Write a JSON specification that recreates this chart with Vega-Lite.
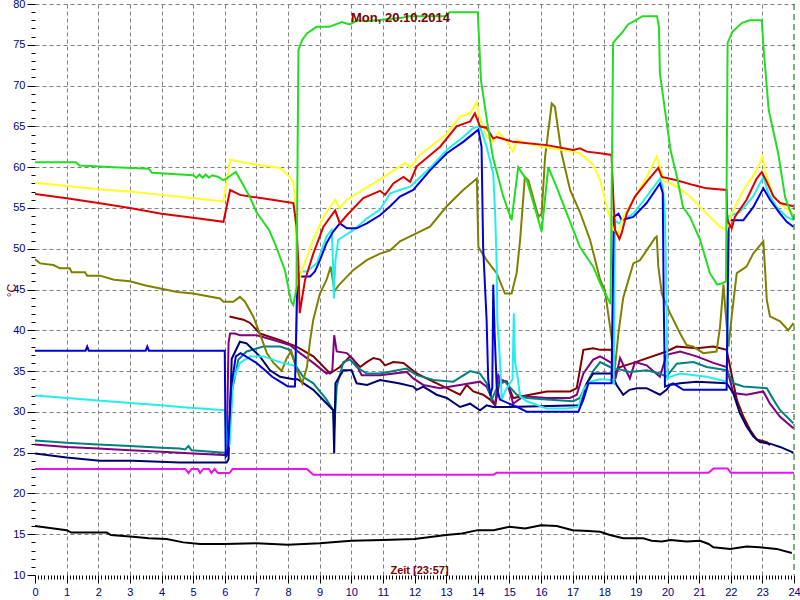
{
"$schema": "https://vega.github.io/schema/vega-lite/v6.json",
"width": 759, "height": 571,
"autosize": {"type": "none"},
"padding": {"left": 35, "top": 4, "right": 6, "bottom": 25},
"background": "white",
"config": {"view": {"stroke": null}, "font": "Liberation Sans"},
"title": {"text": "Mon, 20.10.2014", "color": "#800000", "fontSize": 13, "fontWeight": "bold", "font": "Liberation Sans", "anchor": "middle", "frame": "group", "offset": -27, "dx": -14},
"layer": [
{
"data": {"values": [
{"s":"k","t":0,"v":16.0},{"s":"k","t":1.0,"v":15.5},{"s":"k","t":1.15,"v":15.2},{"s":"k","t":2.27,"v":15.2},{"s":"k","t":2.4,"v":14.9},{"s":"k","t":3.1,"v":14.7},{"s":"k","t":3.6,"v":14.5},{"s":"k","t":4.16,"v":14.4},{"s":"k","t":4.69,"v":14.0},{"s":"k","t":5.22,"v":13.8},{"s":"k","t":6.0,"v":13.8},{"s":"k","t":7.0,"v":13.9},{"s":"k","t":8.0,"v":13.7},{"s":"k","t":9.0,"v":13.9},{"s":"k","t":10.0,"v":14.2},{"s":"k","t":11.0,"v":14.3},{"s":"k","t":12.0,"v":14.4},{"s":"k","t":13.0,"v":14.9},{"s":"k","t":13.5,"v":15.1},{"s":"k","t":14.0,"v":15.5},{"s":"k","t":14.5,"v":15.5},{"s":"k","t":15.0,"v":15.9},{"s":"k","t":15.5,"v":15.7},{"s":"k","t":16.0,"v":16.1},{"s":"k","t":16.5,"v":16.0},{"s":"k","t":17.0,"v":15.5},{"s":"k","t":17.5,"v":15.4},{"s":"k","t":17.87,"v":15.3},{"s":"k","t":18.18,"v":14.9},{"s":"k","t":18.6,"v":14.5},{"s":"k","t":19.23,"v":14.5},{"s":"k","t":19.5,"v":14.2},{"s":"k","t":19.82,"v":14.1},{"s":"k","t":20.1,"v":14.3},{"s":"k","t":20.6,"v":14.1},{"s":"k","t":21.03,"v":14.2},{"s":"k","t":21.3,"v":13.8},{"s":"k","t":21.45,"v":13.4},{"s":"k","t":21.98,"v":13.2},{"s":"k","t":22.5,"v":13.5},{"s":"k","t":22.92,"v":13.4},{"s":"k","t":23.45,"v":13.2},{"s":"k","t":23.93,"v":12.7},
{"s":"mg","t":0,"v":23.0},{"s":"mg","t":4.75,"v":23.0},{"s":"mg","t":4.85,"v":22.5},{"s":"mg","t":4.95,"v":23.0},{"s":"mg","t":5.15,"v":23.0},{"s":"mg","t":5.22,"v":22.5},{"s":"mg","t":5.32,"v":23.0},{"s":"mg","t":5.5,"v":23.0},{"s":"mg","t":5.58,"v":22.5},{"s":"mg","t":5.68,"v":23.0},{"s":"mg","t":5.78,"v":22.5},{"s":"mg","t":6.15,"v":22.5},{"s":"mg","t":6.25,"v":23.0},{"s":"mg","t":8.6,"v":23.0},{"s":"mg","t":8.8,"v":22.3},{"s":"mg","t":14.5,"v":22.3},{"s":"mg","t":14.6,"v":22.55},{"s":"mg","t":21.3,"v":22.55},{"s":"mg","t":21.45,"v":23.07},{"s":"mg","t":21.9,"v":23.07},{"s":"mg","t":22.0,"v":22.55},{"s":"mg","t":24,"v":22.55},
{"s":"m","t":6.15,"v":41.7},{"s":"m","t":6.59,"v":41.3},{"s":"m","t":6.8,"v":40.9},{"s":"m","t":7.11,"v":39.6},{"s":"m","t":7.75,"v":38.8},{"s":"m","t":8.27,"v":38.0},{"s":"m","t":8.8,"v":36.8},{"s":"m","t":9.33,"v":34.7},{"s":"m","t":9.64,"v":35.5},{"s":"m","t":9.96,"v":36.8},{"s":"m","t":10.28,"v":35.5},{"s":"m","t":10.49,"v":36.1},{"s":"m","t":10.7,"v":36.6},{"s":"m","t":10.91,"v":36.4},{"s":"m","t":11.07,"v":35.7},{"s":"m","t":11.33,"v":36.1},{"s":"m","t":11.65,"v":36.0},{"s":"m","t":12.07,"v":34.7},{"s":"m","t":12.49,"v":33.9},{"s":"m","t":13.02,"v":32.9},{"s":"m","t":13.44,"v":32.1},{"s":"m","t":13.65,"v":33.3},{"s":"m","t":13.86,"v":32.5},{"s":"m","t":14.17,"v":32.1},{"s":"m","t":14.39,"v":31.5},{"s":"m","t":14.55,"v":30.8},{"s":"m","t":14.7,"v":33.9},{"s":"m","t":14.92,"v":33.7},{"s":"m","t":15.12,"v":31.7},{"s":"m","t":15.65,"v":32.1},{"s":"m","t":16.18,"v":32.5},{"s":"m","t":16.92,"v":32.5},{"s":"m","t":17.13,"v":32.9},{"s":"m","t":17.34,"v":37.6},{"s":"m","t":17.65,"v":37.8},{"s":"m","t":17.87,"v":37.6},{"s":"m","t":18.23,"v":37.6},{"s":"m","t":18.34,"v":34.7},{"s":"m","t":18.5,"v":35.5},{"s":"m","t":18.92,"v":36.0},{"s":"m","t":19.97,"v":37.4},{"s":"m","t":20.29,"v":38.0},{"s":"m","t":20.92,"v":37.8},{"s":"m","t":21.45,"v":38.0},{"s":"m","t":21.87,"v":37.6},{"s":"m","t":21.98,"v":35.5},{"s":"m","t":22.19,"v":31.5},{"s":"m","t":22.4,"v":29.4},{"s":"m","t":22.61,"v":27.8},{"s":"m","t":22.82,"v":26.6},{"s":"m","t":23.14,"v":26.3},{"s":"m","t":23.24,"v":25.9},
{"s":"p","t":0,"v":26.0},{"s":"p","t":1,"v":25.7},{"s":"p","t":2,"v":25.5},{"s":"p","t":3,"v":25.3},{"s":"p","t":4,"v":25.1},{"s":"p","t":5,"v":24.9},{"s":"p","t":6.06,"v":24.7},{"s":"p","t":6.12,"v":38.5},{"s":"p","t":6.17,"v":39.6},{"s":"p","t":6.32,"v":39.6},{"s":"p","t":6.48,"v":39.4},{"s":"p","t":7.01,"v":39.4},{"s":"p","t":7.54,"v":38.8},{"s":"p","t":8.06,"v":38.2},{"s":"p","t":8.38,"v":37.2},{"s":"p","t":8.8,"v":36.0},{"s":"p","t":9.22,"v":34.7},{"s":"p","t":9.4,"v":35.0},{"s":"p","t":9.46,"v":39.4},{"s":"p","t":9.54,"v":37.4},{"s":"p","t":9.86,"v":37.2},{"s":"p","t":10.07,"v":36.4},{"s":"p","t":10.33,"v":34.5},{"s":"p","t":10.91,"v":34.5},{"s":"p","t":11.75,"v":34.9},{"s":"p","t":11.96,"v":34.1},{"s":"p","t":12.28,"v":33.3},{"s":"p","t":12.81,"v":32.9},{"s":"p","t":13.44,"v":33.3},{"s":"p","t":14.07,"v":33.7},{"s":"p","t":14.28,"v":33.1},{"s":"p","t":14.55,"v":30.8},{"s":"p","t":14.65,"v":34.5},{"s":"p","t":14.75,"v":33.9},{"s":"p","t":14.92,"v":33.7},{"s":"p","t":15.12,"v":31.0},{"s":"p","t":15.44,"v":31.9},{"s":"p","t":16.18,"v":31.7},{"s":"p","t":16.92,"v":31.7},{"s":"p","t":17.13,"v":32.1},{"s":"p","t":17.34,"v":34.7},{"s":"p","t":17.65,"v":36.4},{"s":"p","t":17.87,"v":36.8},{"s":"p","t":18.23,"v":36.0},{"s":"p","t":18.35,"v":34.0},{"s":"p","t":18.5,"v":36.6},{"s":"p","t":18.81,"v":34.1},{"s":"p","t":18.97,"v":36.1},{"s":"p","t":19.34,"v":35.7},{"s":"p","t":19.76,"v":34.3},{"s":"p","t":19.97,"v":37.0},{"s":"p","t":20.4,"v":37.4},{"s":"p","t":20.92,"v":36.8},{"s":"p","t":21.45,"v":36.0},{"s":"p","t":21.87,"v":35.5},{"s":"p","t":22.08,"v":32.3},{"s":"p","t":22.5,"v":32.1},{"s":"p","t":23.03,"v":32.5},{"s":"p","t":23.24,"v":31.0},{"s":"p","t":23.56,"v":29.4},{"s":"p","t":23.98,"v":28.0},
{"s":"e","t":0,"v":26.5},{"s":"e","t":1,"v":26.2},{"s":"e","t":2,"v":26.0},{"s":"e","t":3,"v":25.8},{"s":"e","t":4,"v":25.6},{"s":"e","t":4.58,"v":25.5},{"s":"e","t":4.75,"v":25.4},{"s":"e","t":4.85,"v":25.8},{"s":"e","t":4.95,"v":25.3},{"s":"e","t":6.0,"v":25.0},{"s":"e","t":6.1,"v":25.0},{"s":"e","t":6.2,"v":32.0},{"s":"e","t":6.43,"v":36.4},{"s":"e","t":6.69,"v":37.4},{"s":"e","t":7.22,"v":38.0},{"s":"e","t":7.75,"v":38.0},{"s":"e","t":8.06,"v":37.6},{"s":"e","t":8.27,"v":35.5},{"s":"e","t":8.48,"v":34.3},{"s":"e","t":8.8,"v":33.5},{"s":"e","t":9.22,"v":31.5},{"s":"e","t":9.43,"v":30.2},{"s":"e","t":9.46,"v":27.8},{"s":"e","t":9.54,"v":33.1},{"s":"e","t":9.75,"v":36.1},{"s":"e","t":9.96,"v":36.4},{"s":"e","t":10.17,"v":35.5},{"s":"e","t":10.49,"v":34.7},{"s":"e","t":10.91,"v":34.7},{"s":"e","t":11.75,"v":35.3},{"s":"e","t":12.07,"v":34.5},{"s":"e","t":12.6,"v":33.9},{"s":"e","t":13.23,"v":33.7},{"s":"e","t":13.76,"v":35.0},{"s":"e","t":14.07,"v":34.7},{"s":"e","t":14.28,"v":33.5},{"s":"e","t":14.44,"v":31.5},{"s":"e","t":14.65,"v":33.3},{"s":"e","t":14.86,"v":33.7},{"s":"e","t":15.0,"v":33.1},{"s":"e","t":15.23,"v":32.1},{"s":"e","t":15.55,"v":31.7},{"s":"e","t":16.18,"v":31.5},{"s":"e","t":17.02,"v":31.3},{"s":"e","t":17.23,"v":31.7},{"s":"e","t":17.45,"v":33.5},{"s":"e","t":17.65,"v":35.0},{"s":"e","t":17.87,"v":36.1},{"s":"e","t":18.18,"v":35.5},{"s":"e","t":18.39,"v":35.3},{"s":"e","t":18.81,"v":34.9},{"s":"e","t":19.34,"v":35.1},{"s":"e","t":19.76,"v":34.7},{"s":"e","t":19.97,"v":34.3},{"s":"e","t":20.29,"v":35.9},{"s":"e","t":20.82,"v":36.1},{"s":"e","t":21.24,"v":35.5},{"s":"e","t":21.87,"v":35.1},{"s":"e","t":22.08,"v":33.5},{"s":"e","t":22.4,"v":33.1},{"s":"e","t":23.14,"v":32.9},{"s":"e","t":23.35,"v":31.5},{"s":"e","t":23.56,"v":30.2},{"s":"e","t":23.98,"v":28.6},
{"s":"n","t":0,"v":24.9},{"s":"n","t":1,"v":24.4},{"s":"n","t":2.05,"v":24.0},{"s":"n","t":3.1,"v":24.0},{"s":"n","t":4.58,"v":23.8},{"s":"n","t":6.06,"v":23.8},{"s":"n","t":6.12,"v":24.2},{"s":"n","t":6.22,"v":36.5},{"s":"n","t":6.48,"v":38.6},{"s":"n","t":6.69,"v":38.4},{"s":"n","t":7.11,"v":36.8},{"s":"n","t":7.43,"v":35.1},{"s":"n","t":7.75,"v":34.3},{"s":"n","t":8.17,"v":34.0},{"s":"n","t":8.3,"v":34.0},{"s":"n","t":8.8,"v":32.7},{"s":"n","t":9.43,"v":30.2},{"s":"n","t":9.46,"v":24.9},{"s":"n","t":9.5,"v":33.5},{"s":"n","t":9.75,"v":35.1},{"s":"n","t":10.01,"v":35.1},{"s":"n","t":10.17,"v":33.5},{"s":"n","t":10.5,"v":33.3},{"s":"n","t":10.91,"v":33.9},{"s":"n","t":11.5,"v":33.5},{"s":"n","t":11.96,"v":33.1},{"s":"n","t":12.07,"v":32.7},{"s":"n","t":12.28,"v":33.1},{"s":"n","t":12.7,"v":32.1},{"s":"n","t":13.02,"v":31.7},{"s":"n","t":13.44,"v":30.6},{"s":"n","t":13.76,"v":31.0},{"s":"n","t":14.07,"v":30.2},{"s":"n","t":14.28,"v":30.8},{"s":"n","t":14.49,"v":30.6},{"s":"n","t":14.92,"v":30.6},{"s":"n","t":17.23,"v":30.8},{"s":"n","t":17.45,"v":33.5},{"s":"n","t":17.65,"v":34.7},{"s":"n","t":18.23,"v":34.7},{"s":"n","t":18.39,"v":33.3},{"s":"n","t":18.6,"v":32.1},{"s":"n","t":18.8,"v":32.7},{"s":"n","t":19.03,"v":32.9},{"s":"n","t":19.34,"v":32.9},{"s":"n","t":19.76,"v":32.1},{"s":"n","t":19.97,"v":32.7},{"s":"n","t":20.08,"v":33.3},{"s":"n","t":20.4,"v":33.5},{"s":"n","t":20.92,"v":33.7},{"s":"n","t":21.87,"v":33.5},{"s":"n","t":22.08,"v":32.3},{"s":"n","t":22.29,"v":29.8},{"s":"n","t":22.5,"v":28.2},{"s":"n","t":22.71,"v":27.0},{"s":"n","t":22.92,"v":26.3},{"s":"n","t":23.24,"v":26.1},{"s":"n","t":23.56,"v":25.7},{"s":"n","t":23.98,"v":25.0},
{"s":"o","t":0,"v":48.7},{"s":"o","t":0.16,"v":48.2},{"s":"o","t":0.58,"v":48.0},{"s":"o","t":0.79,"v":47.6},{"s":"o","t":1.1,"v":47.6},{"s":"o","t":1.16,"v":47.1},{"s":"o","t":1.58,"v":47.1},{"s":"o","t":1.65,"v":46.7},{"s":"o","t":2.05,"v":46.7},{"s":"o","t":2.5,"v":46.2},{"s":"o","t":3.0,"v":46.0},{"s":"o","t":3.5,"v":45.5},{"s":"o","t":4.0,"v":45.1},{"s":"o","t":4.5,"v":44.7},{"s":"o","t":5.0,"v":44.5},{"s":"o","t":5.85,"v":43.9},{"s":"o","t":5.96,"v":43.5},{"s":"o","t":6.27,"v":43.5},{"s":"o","t":6.48,"v":44.1},{"s":"o","t":6.64,"v":43.5},{"s":"o","t":6.9,"v":41.7},{"s":"o","t":7.11,"v":39.6},{"s":"o","t":7.33,"v":37.2},{"s":"o","t":7.54,"v":36.0},{"s":"o","t":7.8,"v":35.0},{"s":"o","t":7.95,"v":36.5},{"s":"o","t":8.1,"v":37.5},{"s":"o","t":8.3,"v":35.0},{"s":"o","t":8.45,"v":33.5},{"s":"o","t":8.6,"v":35.5},{"s":"o","t":8.7,"v":38.8},{"s":"o","t":8.8,"v":41.3},{"s":"o","t":9.01,"v":44.5},{"s":"o","t":9.22,"v":46.2},{"s":"o","t":9.35,"v":47.8},{"s":"o","t":9.47,"v":44.8},{"s":"o","t":9.6,"v":45.5},{"s":"o","t":10.07,"v":47.4},{"s":"o","t":10.49,"v":48.6},{"s":"o","t":10.91,"v":49.4},{"s":"o","t":11.23,"v":49.8},{"s":"o","t":11.54,"v":50.9},{"s":"o","t":11.96,"v":51.7},{"s":"o","t":12.49,"v":52.7},{"s":"o","t":13.02,"v":55.2},{"s":"o","t":13.54,"v":57.2},{"s":"o","t":13.97,"v":58.6},{"s":"o","t":14.02,"v":50.2},{"s":"o","t":14.28,"v":48.6},{"s":"o","t":14.6,"v":47.0},{"s":"o","t":14.86,"v":44.5},{"s":"o","t":15.07,"v":44.5},{"s":"o","t":15.23,"v":47.0},{"s":"o","t":15.34,"v":51.1},{"s":"o","t":15.49,"v":58.8},{"s":"o","t":15.6,"v":58.4},{"s":"o","t":15.92,"v":53.9},{"s":"o","t":16.02,"v":54.3},{"s":"o","t":16.13,"v":61.3},{"s":"o","t":16.34,"v":67.8},{"s":"o","t":16.44,"v":67.4},{"s":"o","t":16.65,"v":61.7},{"s":"o","t":16.92,"v":57.2},{"s":"o","t":17.23,"v":54.5},{"s":"o","t":17.55,"v":51.1},{"s":"o","t":17.87,"v":46.2},{"s":"o","t":18.02,"v":44.9},{"s":"o","t":18.2,"v":40.0},{"s":"o","t":18.34,"v":35.5},{"s":"o","t":18.45,"v":39.7},{"s":"o","t":18.6,"v":44.0},{"s":"o","t":18.92,"v":48.2},{"s":"o","t":19.13,"v":48.6},{"s":"o","t":19.34,"v":49.8},{"s":"o","t":19.6,"v":51.3},{"s":"o","t":19.66,"v":51.5},{"s":"o","t":19.71,"v":47.8},{"s":"o","t":19.82,"v":44.5},{"s":"o","t":19.9,"v":43.7},{"s":"o","t":20.08,"v":42.1},{"s":"o","t":20.4,"v":39.6},{"s":"o","t":20.6,"v":38.2},{"s":"o","t":20.82,"v":38.0},{"s":"o","t":21.13,"v":37.2},{"s":"o","t":21.55,"v":37.4},{"s":"o","t":21.66,"v":40.4},{"s":"o","t":21.77,"v":45.6},{"s":"o","t":21.82,"v":43.0},{"s":"o","t":21.93,"v":38.0},{"s":"o","t":22.03,"v":41.7},{"s":"o","t":22.19,"v":47.0},{"s":"o","t":22.5,"v":47.8},{"s":"o","t":22.71,"v":49.4},{"s":"o","t":23.03,"v":50.9},{"s":"o","t":23.08,"v":47.8},{"s":"o","t":23.14,"v":43.7},{"s":"o","t":23.24,"v":41.7},{"s":"o","t":23.56,"v":41.1},{"s":"o","t":23.82,"v":40.0},{"s":"o","t":23.98,"v":40.9},
{"s":"c","t":0,"v":32.0},{"s":"c","t":1,"v":31.7},{"s":"c","t":2,"v":31.4},{"s":"c","t":3,"v":31.1},{"s":"c","t":4,"v":30.8},{"s":"c","t":4.58,"v":30.6},{"s":"c","t":6.0,"v":30.2},{"s":"c","t":6.08,"v":25.3},{"s":"c","t":6.15,"v":26.0},{"s":"c","t":6.27,"v":33.9},{"s":"c","t":6.48,"v":36.0},{"s":"c","t":6.8,"v":36.8},{"s":"c","t":7.22,"v":36.8},{"s":"c","t":7.75,"v":36.1},{"s":"c","t":8.17,"v":35.7},{"s":"c","t":8.25,"v":35.5},{"s":"c","t":8.28,"v":46.6},{"s":"c","t":8.43,"v":47.2},{"s":"c","t":8.59,"v":47.2},{"s":"c","t":8.91,"v":48.2},{"s":"c","t":9.22,"v":51.5},{"s":"c","t":9.38,"v":52.3},{"s":"c","t":9.42,"v":48.6},{"s":"c","t":9.45,"v":43.9},{"s":"c","t":9.5,"v":48.6},{"s":"c","t":9.59,"v":51.1},{"s":"c","t":9.75,"v":51.5},{"s":"c","t":10.07,"v":52.3},{"s":"c","t":10.49,"v":53.7},{"s":"c","t":10.91,"v":54.8},{"s":"c","t":11.23,"v":56.8},{"s":"c","t":11.54,"v":57.2},{"s":"c","t":11.86,"v":57.6},{"s":"c","t":12.49,"v":59.9},{"s":"c","t":13.02,"v":62.1},{"s":"c","t":13.54,"v":63.7},{"s":"c","t":13.86,"v":64.8},{"s":"c","t":14.07,"v":65.0},{"s":"c","t":14.28,"v":62.5},{"s":"c","t":14.49,"v":59.2},{"s":"c","t":14.55,"v":54.3},{"s":"c","t":14.6,"v":47.8},{"s":"c","t":14.62,"v":41.3},{"s":"c","t":14.7,"v":36.4},{"s":"c","t":14.76,"v":31.5},{"s":"c","t":14.86,"v":32.5},{"s":"c","t":15.02,"v":33.5},{"s":"c","t":15.1,"v":34.0},{"s":"c","t":15.14,"v":42.1},{"s":"c","t":15.18,"v":36.0},{"s":"c","t":15.23,"v":35.1},{"s":"c","t":15.34,"v":31.9},{"s":"c","t":15.55,"v":31.3},{"s":"c","t":16.18,"v":30.4},{"s":"c","t":16.81,"v":30.4},{"s":"c","t":17.18,"v":30.6},{"s":"c","t":17.34,"v":32.7},{"s":"c","t":17.55,"v":33.7},{"s":"c","t":17.87,"v":34.0},{"s":"c","t":18.23,"v":33.9},{"s":"c","t":18.3,"v":33.5},{"s":"c","t":18.34,"v":53.5},{"s":"c","t":18.45,"v":53.1},{"s":"c","t":18.6,"v":53.5},{"s":"c","t":18.92,"v":54.3},{"s":"c","t":19.34,"v":56.4},{"s":"c","t":19.76,"v":58.6},{"s":"c","t":19.85,"v":57.6},{"s":"c","t":19.92,"v":54.3},{"s":"c","t":19.97,"v":43.7},{"s":"c","t":20.0,"v":34.0},{"s":"c","t":20.08,"v":34.3},{"s":"c","t":20.4,"v":34.7},{"s":"c","t":21.24,"v":34.3},{"s":"c","t":21.66,"v":33.9},{"s":"c","t":21.87,"v":33.7},{"s":"c","t":21.95,"v":54.0},{"s":"c","t":22.29,"v":54.5},{"s":"c","t":22.71,"v":56.4},{"s":"c","t":23.03,"v":58.8},{"s":"c","t":23.19,"v":56.8},{"s":"c","t":23.45,"v":55.1},{"s":"c","t":23.77,"v":53.9},{"s":"c","t":23.98,"v":53.5},
{"s":"b","t":0,"v":37.5},{"s":"b","t":1.6,"v":37.5},{"s":"b","t":1.65,"v":38.0},{"s":"b","t":1.7,"v":37.5},{"s":"b","t":3.5,"v":37.5},{"s":"b","t":3.55,"v":38.0},{"s":"b","t":3.6,"v":37.5},{"s":"b","t":6.0,"v":37.5},{"s":"b","t":6.03,"v":24.5},{"s":"b","t":6.1,"v":25.0},{"s":"b","t":6.2,"v":33.0},{"s":"b","t":6.35,"v":36.8},{"s":"b","t":6.5,"v":37.2},{"s":"b","t":7.0,"v":36.0},{"s":"b","t":7.3,"v":35.0},{"s":"b","t":7.5,"v":34.3},{"s":"b","t":7.75,"v":33.7},{"s":"b","t":8.0,"v":33.1},{"s":"b","t":8.22,"v":33.1},{"s":"b","t":8.3,"v":46.6},{"s":"b","t":8.7,"v":46.6},{"s":"b","t":8.85,"v":47.2},{"s":"b","t":9.01,"v":48.6},{"s":"b","t":9.22,"v":50.7},{"s":"b","t":9.43,"v":52.1},{"s":"b","t":9.64,"v":53.1},{"s":"b","t":9.86,"v":52.5},{"s":"b","t":10.17,"v":52.5},{"s":"b","t":10.49,"v":53.1},{"s":"b","t":10.91,"v":54.1},{"s":"b","t":11.23,"v":55.2},{"s":"b","t":11.54,"v":56.4},{"s":"b","t":11.96,"v":57.2},{"s":"b","t":12.49,"v":59.6},{"s":"b","t":13.02,"v":61.7},{"s":"b","t":13.54,"v":63.1},{"s":"b","t":14.02,"v":64.6},{"s":"b","t":14.12,"v":62.5},{"s":"b","t":14.17,"v":50.2},{"s":"b","t":14.28,"v":41.3},{"s":"b","t":14.33,"v":34.0},{"s":"b","t":14.4,"v":32.0},{"s":"b","t":14.46,"v":33.0},{"s":"b","t":14.49,"v":45.6},{"s":"b","t":14.53,"v":40.0},{"s":"b","t":14.6,"v":33.0},{"s":"b","t":14.7,"v":31.5},{"s":"b","t":15.3,"v":30.5},{"s":"b","t":15.55,"v":30.0},{"s":"b","t":17.18,"v":30.0},{"s":"b","t":17.34,"v":31.5},{"s":"b","t":17.5,"v":33.5},{"s":"b","t":18.23,"v":33.5},{"s":"b","t":18.3,"v":53.9},{"s":"b","t":18.45,"v":54.3},{"s":"b","t":18.55,"v":53.5},{"s":"b","t":18.92,"v":53.9},{"s":"b","t":19.34,"v":55.6},{"s":"b","t":19.76,"v":58.0},{"s":"b","t":19.85,"v":56.8},{"s":"b","t":19.88,"v":43.7},{"s":"b","t":19.92,"v":33.1},{"s":"b","t":20.18,"v":33.5},{"s":"b","t":20.5,"v":32.7},{"s":"b","t":21.87,"v":32.7},{"s":"b","t":21.93,"v":53.5},{"s":"b","t":22.4,"v":53.5},{"s":"b","t":22.71,"v":55.1},{"s":"b","t":23.03,"v":57.4},{"s":"b","t":23.24,"v":56.0},{"s":"b","t":23.56,"v":54.3},{"s":"b","t":23.77,"v":53.3},{"s":"b","t":23.98,"v":52.7},
{"s":"y","t":0,"v":58.1},{"s":"y","t":1,"v":57.7},{"s":"y","t":2,"v":57.3},{"s":"y","t":3,"v":57.0},{"s":"y","t":4,"v":56.6},{"s":"y","t":5,"v":56.2},{"s":"y","t":5.96,"v":55.8},{"s":"y","t":6.17,"v":60.9},{"s":"y","t":6.69,"v":60.5},{"s":"y","t":7.2,"v":60.2},{"s":"y","t":7.75,"v":59.9},{"s":"y","t":8.0,"v":59.0},{"s":"y","t":8.17,"v":58.2},{"s":"y","t":8.22,"v":56.0},{"s":"y","t":8.27,"v":47.0},{"s":"y","t":8.3,"v":45.5},{"s":"y","t":8.48,"v":47.8},{"s":"y","t":8.8,"v":51.1},{"s":"y","t":9.12,"v":53.9},{"s":"y","t":9.49,"v":56.0},{"s":"y","t":9.62,"v":55.0},{"s":"y","t":9.86,"v":56.0},{"s":"y","t":10.28,"v":57.0},{"s":"y","t":10.91,"v":58.5},{"s":"y","t":11.54,"v":60.1},{"s":"y","t":11.7,"v":60.5},{"s":"y","t":11.86,"v":59.9},{"s":"y","t":12.17,"v":61.5},{"s":"y","t":13.02,"v":64.1},{"s":"y","t":13.44,"v":66.2},{"s":"y","t":13.76,"v":66.6},{"s":"y","t":13.97,"v":68.0},{"s":"y","t":14.02,"v":66.6},{"s":"y","t":14.28,"v":63.7},{"s":"y","t":14.49,"v":63.1},{"s":"y","t":14.65,"v":64.3},{"s":"y","t":14.92,"v":63.1},{"s":"y","t":15.12,"v":61.9},{"s":"y","t":15.23,"v":63.3},{"s":"y","t":15.55,"v":62.9},{"s":"y","t":16.2,"v":62.4},{"s":"y","t":17.0,"v":61.9},{"s":"y","t":17.23,"v":61.7},{"s":"y","t":17.65,"v":60.3},{"s":"y","t":17.87,"v":58.4},{"s":"y","t":18.08,"v":55.1},{"s":"y","t":18.29,"v":52.3},{"s":"y","t":18.45,"v":51.9},{"s":"y","t":18.6,"v":53.9},{"s":"y","t":18.92,"v":56.0},{"s":"y","t":19.34,"v":58.8},{"s":"y","t":19.66,"v":61.3},{"s":"y","t":19.76,"v":60.1},{"s":"y","t":19.87,"v":58.4},{"s":"y","t":20.29,"v":57.6},{"s":"y","t":20.71,"v":56.4},{"s":"y","t":21.24,"v":54.3},{"s":"y","t":21.66,"v":52.7},{"s":"y","t":21.87,"v":52.3},{"s":"y","t":22.03,"v":54.3},{"s":"y","t":22.4,"v":57.2},{"s":"y","t":22.82,"v":59.6},{"s":"y","t":23.0,"v":61.3},{"s":"y","t":23.14,"v":58.8},{"s":"y","t":23.35,"v":56.4},{"s":"y","t":23.66,"v":55.2},{"s":"y","t":23.98,"v":54.3},
{"s":"r","t":0,"v":56.7},{"s":"r","t":1,"v":56.2},{"s":"r","t":2,"v":55.6},{"s":"r","t":3,"v":55.0},{"s":"r","t":4,"v":54.3},{"s":"r","t":5,"v":53.8},{"s":"r","t":5.96,"v":53.3},{"s":"r","t":6.17,"v":57.2},{"s":"r","t":6.48,"v":56.6},{"s":"r","t":6.8,"v":56.4},{"s":"r","t":7.5,"v":56.0},{"s":"r","t":8.17,"v":55.6},{"s":"r","t":8.27,"v":52.7},{"s":"r","t":8.33,"v":47.8},{"s":"r","t":8.37,"v":42.1},{"s":"r","t":8.54,"v":46.2},{"s":"r","t":8.8,"v":49.4},{"s":"r","t":9.12,"v":52.7},{"s":"r","t":9.49,"v":54.7},{"s":"r","t":9.64,"v":53.1},{"s":"r","t":9.86,"v":54.1},{"s":"r","t":10.38,"v":56.2},{"s":"r","t":10.91,"v":57.1},{"s":"r","t":11.07,"v":56.6},{"s":"r","t":11.33,"v":58.0},{"s":"r","t":11.65,"v":58.8},{"s":"r","t":11.86,"v":58.2},{"s":"r","t":12.07,"v":60.1},{"s":"r","t":12.81,"v":62.5},{"s":"r","t":13.33,"v":65.0},{"s":"r","t":13.76,"v":65.6},{"s":"r","t":13.91,"v":66.6},{"s":"r","t":14.07,"v":65.0},{"s":"r","t":14.28,"v":64.8},{"s":"r","t":14.49,"v":63.5},{"s":"r","t":14.6,"v":63.7},{"s":"r","t":15.12,"v":63.1},{"s":"r","t":16.18,"v":62.7},{"s":"r","t":17.02,"v":62.1},{"s":"r","t":17.23,"v":62.3},{"s":"r","t":17.45,"v":61.9},{"s":"r","t":17.87,"v":61.7},{"s":"r","t":18.23,"v":61.5},{"s":"r","t":18.29,"v":56.0},{"s":"r","t":18.34,"v":52.3},{"s":"r","t":18.48,"v":51.2},{"s":"r","t":18.55,"v":51.9},{"s":"r","t":18.71,"v":54.3},{"s":"r","t":18.97,"v":56.4},{"s":"r","t":19.34,"v":58.2},{"s":"r","t":19.71,"v":59.9},{"s":"r","t":19.82,"v":58.8},{"s":"r","t":20.29,"v":58.4},{"s":"r","t":20.82,"v":57.8},{"s":"r","t":21.24,"v":57.4},{"s":"r","t":21.87,"v":57.2},{"s":"r","t":21.89,"v":53.5},{"s":"r","t":22.03,"v":52.5},{"s":"r","t":22.13,"v":53.9},{"s":"r","t":22.5,"v":56.0},{"s":"r","t":22.82,"v":58.6},{"s":"r","t":22.98,"v":59.4},{"s":"r","t":23.14,"v":58.2},{"s":"r","t":23.35,"v":56.4},{"s":"r","t":23.56,"v":55.6},{"s":"r","t":23.98,"v":55.2},
{"s":"g","t":0,"v":60.6},{"s":"g","t":1.3,"v":60.6},{"s":"g","t":1.4,"v":60.2},{"s":"g","t":2.5,"v":60.0},{"s":"g","t":3.6,"v":59.8},{"s":"g","t":3.7,"v":59.3},{"s":"g","t":5.0,"v":59.0},{"s":"g","t":5.1,"v":58.7},{"s":"g","t":5.2,"v":59.1},{"s":"g","t":5.3,"v":58.7},{"s":"g","t":5.4,"v":59.1},{"s":"g","t":5.5,"v":58.7},{"s":"g","t":5.6,"v":59.0},{"s":"g","t":5.8,"v":58.8},{"s":"g","t":5.95,"v":58.4},{"s":"g","t":6.05,"v":58.6},{"s":"g","t":6.2,"v":59.0},{"s":"g","t":6.35,"v":59.4},{"s":"g","t":6.5,"v":58.4},{"s":"g","t":6.8,"v":56.3},{"s":"g","t":7.0,"v":54.5},{"s":"g","t":7.4,"v":52.3},{"s":"g","t":7.6,"v":50.5},{"s":"g","t":7.9,"v":47.4},{"s":"g","t":8.1,"v":43.5},{"s":"g","t":8.17,"v":43.1},{"s":"g","t":8.27,"v":45.2},{"s":"g","t":8.33,"v":74.4},{"s":"g","t":8.45,"v":75.6},{"s":"g","t":8.6,"v":76.4},{"s":"g","t":8.9,"v":77.2},{"s":"g","t":9.3,"v":77.2},{"s":"g","t":9.7,"v":77.8},{"s":"g","t":9.95,"v":77.5},{"s":"g","t":10.2,"v":78.0},{"s":"g","t":10.5,"v":77.9},{"s":"g","t":11.6,"v":78.3},{"s":"g","t":11.8,"v":78.5},{"s":"g","t":13.0,"v":78.5},{"s":"g","t":13.1,"v":79.0},{"s":"g","t":14.0,"v":79.0},{"s":"g","t":14.05,"v":75.0},{"s":"g","t":14.1,"v":70.7},{"s":"g","t":14.3,"v":65.5},{"s":"g","t":14.48,"v":61.2},{"s":"g","t":14.8,"v":56.5},{"s":"g","t":15.07,"v":53.5},{"s":"g","t":15.28,"v":60.0},{"s":"g","t":15.55,"v":58.4},{"s":"g","t":16.02,"v":52.1},{"s":"g","t":16.23,"v":60.0},{"s":"g","t":16.5,"v":57.5},{"s":"g","t":16.81,"v":54.4},{"s":"g","t":17.23,"v":50.2},{"s":"g","t":17.65,"v":47.8},{"s":"g","t":17.9,"v":45.5},{"s":"g","t":18.09,"v":44.1},{"s":"g","t":18.2,"v":43.2},{"s":"g","t":18.28,"v":75.2},{"s":"g","t":18.4,"v":75.8},{"s":"g","t":18.59,"v":76.6},{"s":"g","t":18.75,"v":77.5},{"s":"g","t":19.04,"v":78.1},{"s":"g","t":19.2,"v":78.5},{"s":"g","t":19.67,"v":78.5},{"s":"g","t":19.73,"v":77.2},{"s":"g","t":19.76,"v":71.5},{"s":"g","t":19.92,"v":67.0},{"s":"g","t":20.1,"v":62.0},{"s":"g","t":20.3,"v":58.8},{"s":"g","t":20.49,"v":55.1},{"s":"g","t":20.71,"v":53.9},{"s":"g","t":21.03,"v":51.1},{"s":"g","t":21.34,"v":47.0},{"s":"g","t":21.57,"v":45.6},{"s":"g","t":21.75,"v":45.8},{"s":"g","t":21.85,"v":46.0},{"s":"g","t":21.9,"v":75.2},{"s":"g","t":22.05,"v":76.6},{"s":"g","t":22.36,"v":77.7},{"s":"g","t":22.6,"v":78.0},{"s":"g","t":22.98,"v":78.0},{"s":"g","t":23.05,"v":74.0},{"s":"g","t":23.2,"v":67.0},{"s":"g","t":23.5,"v":61.7},{"s":"g","t":23.72,"v":56.3},{"s":"g","t":23.9,"v":54.4},{"s":"g","t":24.0,"v":53.5}
]},
"mark": {"type": "line", "strokeWidth": 2, "clip": true},
"encoding": {
"x": {"field": "t", "type": "quantitative", "scale": {"domain": [0, 24], "nice": false, "zero": false},
 "axis": {"values": [0,0.1,0.2,0.3,0.4,0.5,0.6,0.7,0.8,0.9,1,1.1,1.2,1.3,1.4,1.5,1.6,1.7,1.8,1.9,2,2.1,2.2,2.3,2.4,2.5,2.6,2.7,2.8,2.9,3,3.1,3.2,3.3,3.4,3.5,3.6,3.7,3.8,3.9,4,4.1,4.2,4.3,4.4,4.5,4.6,4.7,4.8,4.9,5,5.1,5.2,5.3,5.4,5.5,5.6,5.7,5.8,5.9,6,6.1,6.2,6.3,6.4,6.5,6.6,6.7,6.8,6.9,7,7.1,7.2,7.3,7.4,7.5,7.6,7.7,7.8,7.9,8,8.1,8.2,8.3,8.4,8.5,8.6,8.7,8.8,8.9,9,9.1,9.2,9.3,9.4,9.5,9.6,9.7,9.8,9.9,10,10.1,10.2,10.3,10.4,10.5,10.6,10.7,10.8,10.9,11,11.1,11.2,11.3,11.4,11.5,11.6,11.7,11.8,11.9,12,12.1,12.2,12.3,12.4,12.5,12.6,12.7,12.8,12.9,13,13.1,13.2,13.3,13.4,13.5,13.6,13.7,13.8,13.9,14,14.1,14.2,14.3,14.4,14.5,14.6,14.7,14.8,14.9,15,15.1,15.2,15.3,15.4,15.5,15.6,15.7,15.8,15.9,16,16.1,16.2,16.3,16.4,16.5,16.6,16.7,16.8,16.9,17,17.1,17.2,17.3,17.4,17.5,17.6,17.7,17.8,17.9,18,18.1,18.2,18.3,18.4,18.5,18.6,18.7,18.8,18.9,19,19.1,19.2,19.3,19.4,19.5,19.6,19.7,19.8,19.9,20,20.1,20.2,20.3,20.4,20.5,20.6,20.7,20.8,20.9,21,21.1,21.2,21.3,21.4,21.5,21.6,21.7,21.8,21.9,22,22.1,22.2,22.3,22.4,22.5,22.6,22.7,22.8,22.9,23,23.1,23.2,23.3,23.4,23.5,23.6,23.7,23.8,23.9,24],
  "tickCount": 1000,
  "labelExpr": "datum.value % 1 === 0 ? format(datum.value, 'd') : ''",
  "labelOverlap": false, "labelFlush": false, "labelBound": false,
  "labelColor": "#000080", "labelFontSize": 11, "labelFont": "Liberation Sans", "labelPadding": 3,
  "ticks": true, "tickColor": "#000000", "tickSize": 8, "tickWidth": 1,
  "tickDash": {"condition": {"test": "datum.value % 1 === 0", "value": [10, 0]}, "value": [4, 100]},
  "domain": false,
  "grid": true, "gridColor": "#808080", "gridDash": [4, 3], "gridWidth": 1,
  "gridOpacity": {"condition": {"test": "datum.value % 1 === 0 && datum.value > 0 && datum.value < 24", "value": 1}, "value": 0},
  "title": "Zeit [23:57]", "titleColor": "#800000", "titleFontSize": 11, "titleFontWeight": "bold", "titleFont": "Liberation Sans",
  "titleY": 0, "titleBaseline": "bottom", "titleX": 384, "titleAnchor": null
 }},
"y": {"field": "v", "type": "quantitative", "scale": {"domain": [10, 80], "nice": false, "zero": false},
 "axis": {"values": [10,11,12,13,14,15,16,17,18,19,20,21,22,23,24,25,26,27,28,29,30,31,32,33,34,35,36,37,38,39,40,41,42,43,44,45,46,47,48,49,50,51,52,53,54,55,56,57,58,59,60,61,62,63,64,65,66,67,68,69,70,71,72,73,74,75,76,77,78,79,80],
  "tickCount": 1000,
  "labelExpr": "datum.value % 5 === 0 ? format(datum.value, 'd') : ''",
  "labelOverlap": false, "labelFlush": false, "labelBound": false,
  "labelColor": "#000080", "labelFontSize": 11, "labelFont": "Liberation Sans", "labelPadding": 2,
  "ticks": true, "tickColor": "#000000", "tickSize": 8, "tickWidth": 1,
  "tickDash": {"condition": {"test": "datum.value % 5 === 0", "value": [10, 0]}, "value": [4, 100]},
  "domain": false,
  "grid": true, "gridColor": "#808080", "gridDash": [4, 3], "gridWidth": 1,
  "gridOpacity": {"condition": {"test": "datum.value % 5 === 0 && datum.value > 10", "value": 1}, "value": 0},
  "title": "°C", "titleColor": "#800000", "titleFontSize": 12, "titleFontWeight": "normal", "titleFont": "Liberation Sans",
  "titleX": -24, "titleY": 286, "titleAlign": "center", "titleBaseline": "middle", "titleAngle": -90
 }},
"color": {"field": "s", "type": "nominal", "legend": null,
 "scale": {"domain": ["k","mg","m","p","e","n","o","c","b","y","r","g"],
  "range": ["#000000","#ee11ee","#800000","#800080","#008080","#000070","#808000","#22eeee","#0000dd","#ffff22","#dd0000","#22dd22"]}}
}
},
{
"data": {"values": [{"t": 24}]},
"mark": {"type": "rule", "color": "#006400", "strokeDash": [6, 4], "strokeWidth": 1},
"encoding": {"x": {"field": "t", "type": "quantitative"}}
}
]
}
